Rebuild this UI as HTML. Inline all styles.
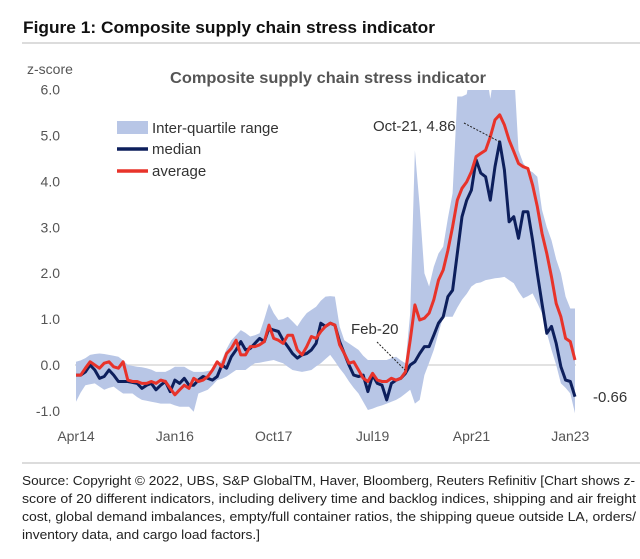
<!DOCTYPE html>
<html><head><meta charset="utf-8">
<style>
html,body{margin:0;padding:0;background:#fff;}
svg{display:block;font-family:"Liberation Sans",sans-serif;}
</style></head>
<body>
<svg id="chart" width="640" height="559" viewBox="0 0 640 559" xmlns="http://www.w3.org/2000/svg">
  <text x="23" y="33" font-size="17" font-weight="bold" fill="#111" textLength="412" lengthAdjust="spacingAndGlyphs">Figure 1: Composite supply chain stress indicator</text>
  <line x1="22" y1="43" x2="640" y2="43" stroke="#d0d0d0" stroke-width="1.5"/>
  <text x="27" y="74" font-size="14" fill="#555">z-score</text>
  <text x="170" y="83" font-size="15.5" font-weight="bold" fill="#555" textLength="316" lengthAdjust="spacingAndGlyphs">Composite supply chain stress indicator</text>
  <defs><clipPath id="plotclip"><rect x="40" y="90" width="600" height="400"/></clipPath></defs>
  <g id="plot"></g>
  <g id="legend">
    <rect x="117" y="121" width="31" height="13" fill="#b8c6e6"/>
    <text x="152" y="133" font-size="15" fill="#333">Inter-quartile range</text>
    <line x1="117" y1="149" x2="148" y2="149" stroke="#0d1f5c" stroke-width="3.5"/>
    <text x="152" y="154" font-size="15" fill="#333">median</text>
    <line x1="117" y1="171" x2="148" y2="171" stroke="#e8332a" stroke-width="3.5"/>
    <text x="152" y="176" font-size="15" fill="#333">average</text>
  </g>
  <text x="373" y="131" font-size="15" fill="#333">Oct-21, 4.86</text>
  <line x1="464" y1="123" x2="500" y2="142" stroke="#222" stroke-width="1" stroke-dasharray="2,1.5"/>
  <text x="351" y="334" font-size="15" fill="#333">Feb-20</text>
  <line x1="377" y1="342" x2="405" y2="370" stroke="#222" stroke-width="1" stroke-dasharray="2,1.5"/>
  <text x="593" y="402" font-size="15" fill="#333">-0.66</text>
  <line x1="22" y1="463" x2="640" y2="463" stroke="#d0d0d0" stroke-width="1.5"/>
  <g font-size="13" fill="#222">
    <text x="22" y="485" textLength="613" lengthAdjust="spacingAndGlyphs">Source: Copyright © 2022, UBS, S&amp;P GlobalTM, Haver, Bloomberg, Reuters Refinitiv [Chart shows z-</text>
    <text x="22" y="503" textLength="614" lengthAdjust="spacingAndGlyphs">score of 20 different indicators, including delivery time and backlog indices, shipping and air freight</text>
    <text x="22" y="521" textLength="614" lengthAdjust="spacingAndGlyphs">cost, global demand imbalances, empty/full container ratios, the shipping queue outside LA, orders/</text>
    <text x="22" y="539" textLength="238" lengthAdjust="spacingAndGlyphs">inventory data, and cargo load factors.]</text>
  </g>
</svg>
<script>
const median = [-0.22,-0.22,-0.15,0,-0.11,-0.29,-0.25,-0.11,-0.22,-0.36,
-0.36,-0.36,-0.38,-0.40,-0.51,-0.44,-0.40,-0.54,-0.44,-0.36,
-0.58,-0.33,-0.40,-0.29,-0.44,-0.44,-0.33,-0.25,-0.29,-0.33,
-0.25,0,-0.07,0.18,0.33,0.51,0.33,0.36,0.47,0.58,
0.51,0.80,0.76,0.73,0.54,0.40,0.25,0.15,0.22,0.25,
0.33,0.47,0.91,0.84,0.91,0.87,0.51,0.25,0,-0.22,
-0.25,-0.22,-0.58,-0.22,-0.40,-0.44,-0.76,-0.40,-0.33,-0.29,
-0.18,0,0.07,0.25,0.40,0.40,0.65,0.91,1.05,1.49,
1.63,2.43,3.23,3.59,3.81,4.47,4.18,4.10,3.59,4.32,
4.86,4.25,3.12,3.23,2.76,3.34,3.34,2.72,2.0,1.34,
0.69,0.84,0.47,-0.04,-0.33,-0.36,-0.69];
const average = [-0.22,-0.22,-0.07,0.07,0,-0.07,0.04,0.07,-0.04,-0.07,
0.07,-0.33,-0.36,-0.36,-0.40,-0.40,-0.36,-0.40,-0.33,-0.36,
-0.51,-0.65,-0.54,-0.44,-0.51,-0.29,-0.36,-0.33,-0.25,-0.11,
0.07,-0.04,0.25,0.36,0.54,0.22,0.22,0.40,0.40,0.44,
0.51,0.87,0.58,0.54,0.47,0.65,0.65,0.33,0.22,0.40,
0.62,0.58,0.73,0.84,0.91,0.87,0.44,0.25,0.04,0.07,
-0.11,-0.29,-0.36,-0.18,-0.33,-0.36,-0.36,-0.29,-0.33,-0.29,
-0.15,0.54,1.31,0.98,1.02,1.13,1.42,1.85,2.07,2.50,
3.01,3.59,3.85,3.99,4.21,4.54,4.61,4.68,4.97,5.34,
5.45,5.23,4.90,4.65,4.39,4.32,4.28,3.92,3.45,2.87,
2.43,1.92,1.34,1.05,0.58,0.51,0.11];
const iqrHigh = [0.07,0.1,0.15,0.22,0.24,0.25,0.24,0.22,0.2,0.18,
0.1,0,-0.02,-0.04,-0.05,-0.07,-0.1,-0.15,-0.15,-0.15,
-0.1,-0.04,-0.04,-0.04,-0.1,-0.15,-0.15,-0.15,-0.13,-0.11,
0,0.11,0.35,0.54,0.65,0.76,0.7,0.62,0.65,0.69,
1.0,1.34,1.13,0.98,1.0,1.05,0.95,0.84,1.0,1.13,
1.2,1.27,1.4,1.49,1.5,1.49,0.84,0.54,0.47,0.4,
0.33,0.2,0.11,0.11,0.11,0.11,0.11,0.15,0.18,0.1,
0.04,1.13,4.68,3.45,2.0,1.71,2.14,2.43,2.58,3.2,
3.74,5.85,5.85,5.9,6.5,6.5,6.5,6.5,5.8,6.5,
6.5,6.5,6.5,6.5,4.68,4.4,4.25,4.2,4.10,3.38,
3.0,2.72,2.3,2.0,1.49,1.23,1.23];
const iqrLow = [-0.8,-0.6,-0.44,-0.42,-0.4,-0.47,-0.54,-0.5,-0.47,-0.55,
-0.62,-0.62,-0.62,-0.7,-0.76,-0.78,-0.8,-0.82,-0.84,-0.84,
-0.84,-0.88,-0.91,-0.91,-0.91,-1.02,-0.62,-0.58,-0.54,-0.44,
-0.33,-0.3,-0.25,-0.18,-0.11,-0.11,-0.11,-0.03,0.04,0.05,
0.07,0.09,0.11,0.07,0.04,-0.04,-0.11,-0.13,-0.15,-0.13,
-0.11,-0.03,0.04,0.13,0.22,0.08,-0.07,-0.2,-0.36,-0.5,
-0.62,-0.8,-0.98,-0.95,-0.91,-0.88,-0.84,-0.8,-0.76,-0.7,
-0.62,-0.54,-0.84,-0.76,-0.22,0.05,0.33,0.7,1.05,1.05,
1.05,1.25,1.42,1.55,1.71,1.78,1.8,1.85,1.87,1.89,
1.9,1.92,1.85,1.78,1.6,1.45,1.5,1.56,1.35,1.13,
0.7,0.33,0,-0.4,-0.5,-0.62,-1.05];
const yTicks = [6,5,4,3,2,1,0,-1];
const yTickLabels = ["6.0","5.0","4.0","3.0","2.0","1.0","0.0","-1.0"];
const xTickIdx = [0,21,42,63,84,105];
const xTickLabels = ["Apr14","Jan16","Oct17","Jul19","Apr21","Jan23"];

const NS = "http://www.w3.org/2000/svg";
const N = median.length;
function xS(i){ return 76 + i*(575-76)/(N-1); }
function yS(v){ return 365 - v*45.9; }
const plot = document.getElementById('plot');
function mk(tag, attrs, parent){
  const e = document.createElementNS(NS, tag);
  for (const k in attrs) e.setAttribute(k, attrs[k]);
  (parent||plot).appendChild(e);
  return e;
}
// band
let d = "";
for (let i=0;i<N;i++) d += (i?"L":"M")+xS(i).toFixed(1)+","+yS(iqrHigh[i]).toFixed(1);
for (let i=N-1;i>=0;i--) d += "L"+xS(i).toFixed(1)+","+yS(iqrLow[i]).toFixed(1);
d += "Z";
const band = mk('path',{d:d, fill:'#b8c6e6', 'clip-path':'url(#plotclip)'});


// zero line
const zl = mk('line',{x1:75,x2:576,y1:yS(0),y2:yS(0),stroke:'#d9d9d9','stroke-width':1.5});


plot.insertBefore(zl, band);
function line(arr,color){
  let p="";
  for (let i=0;i<N;i++) p += (i?"L":"M")+xS(i).toFixed(1)+","+yS(arr[i]).toFixed(1);
  return mk('path',{d:p,fill:'none',stroke:color,'stroke-width':3,'stroke-linejoin':'round'});
}
const ml = line(median,'#0d1f5c');


const al = line(average,'#e8332a');


// y ticks
for (let k=0;k<yTicks.length;k++){
  const t = mk('text',{x:60,y:yS(yTicks[k])+5,'font-size':14,fill:'#555','text-anchor':'end'});
  t.textContent = yTickLabels[k];
  
  
}
for (let k=0;k<xTickIdx.length;k++){
  const t = mk('text',{x:xS(xTickIdx[k]),y:441,'font-size':14,fill:'#555','text-anchor':'middle'});
  t.textContent = xTickLabels[k];
  
  
}
</script>
</body></html>
